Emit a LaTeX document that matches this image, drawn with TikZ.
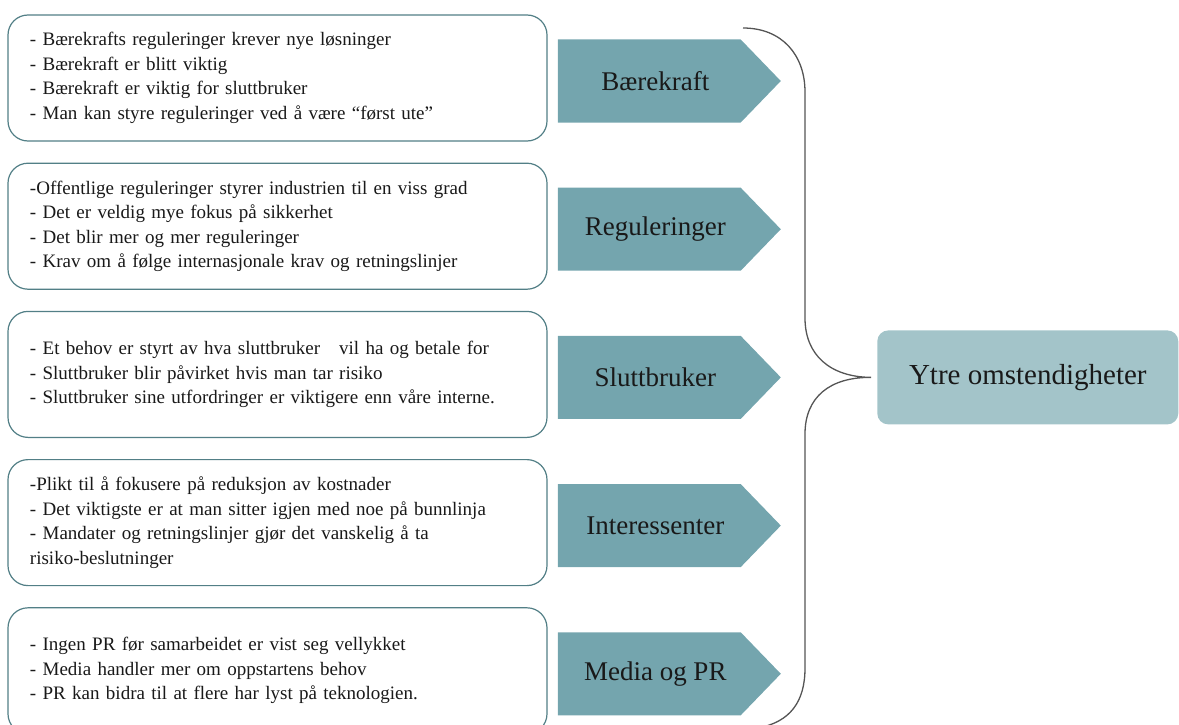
\documentclass[tikz,border=0pt]{standalone}
\usepackage{fontspec}
\setmainfont{Liberation Serif}
\usepackage{xcolor}
\usetikzlibrary{shapes,arrows,positioning}

\definecolor{tagteal}{HTML}{74A5AE}
\definecolor{mainteal}{HTML}{A3C4C9}
\definecolor{boxline}{HTML}{527F86}
\definecolor{braceline}{HTML}{555555}

\begin{document}
\begin{tikzpicture}[x=1pt, y=-1pt, node distance=21pt, auto]
    % Define styles
    \tikzstyle{infobox} = [rectangle, draw=boxline, line width=1.2pt, rounded corners=20pt, fill=white, minimum width=539pt, minimum height=126pt, text width=495pt, inner xsep=22pt, align=left, font=\fontsize{19}{24.5}\selectfont, text=black!90]
    \tikzstyle{tag} = [signal, signal to=east, signal pointer angle=92, fill=tagteal, minimum width=223pt, minimum height=83pt, inner sep=0pt, yshift=-3pt, font=\fontsize{27}{30}\selectfont, text=black!90]
    \tikzstyle{mainbox} = [rectangle, rounded corners=11pt, fill=mainteal, minimum width=301pt, minimum height=94pt, font=\fontsize{29}{32}\selectfont, text=black!90]
    \tikzstyle{brace} = [draw=braceline, line width=1.3pt]

    \useasboundingbox (0,0) rectangle (1179,725);

    % Baerekraft
    \node [infobox] (bkbox) at (277.5,78) {- Bærekrafts reguleringer krever nye løsninger\\- Bærekraft er blitt viktig\\- Bærekraft er viktig for sluttbruker\\- Man kan styre reguleringer ved å være “først ute”};
    \node [tag, right=10pt of bkbox] (bktag) {\hspace*{12pt}Bærekraft};

    % Reguleringer
    \node [infobox, below=of bkbox] (regbox) {-Offentlige reguleringer styrer industrien til en viss grad\\- Det er veldig mye fokus på sikkerhet\\- Det blir mer og mer reguleringer\\- Krav om å følge internasjonale krav og retningslinjer};
    \node [tag, right=10pt of regbox] (regtag) {\hspace*{12pt}Reguleringer};

    % Sluttbruker
    \node [infobox, below=of regbox] (slbox) {- Et behov er styrt av hva sluttbruker~~~vil ha og betale for\\- Sluttbruker blir påvirket hvis man tar risiko\\- Sluttbruker sine utfordringer er viktigere enn våre interne.};
    \node [tag, right=10pt of slbox] (sltag) {\hspace*{12pt}Sluttbruker};

    % Interessenter
    \node [infobox, below=of slbox] (intbox) {-Plikt til å fokusere på reduksjon av kostnader\\- Det viktigste er at man sitter igjen med noe på bunnlinja\\- Mandater og retningslinjer gjør det vanskelig å ta\\risiko-beslutninger};
    \node [tag, right=10pt of intbox] (inttag) {\hspace*{12pt}Interessenter};

    % Media og PR
    \node [infobox, below=of intbox] (prbox) {- Ingen PR før samarbeidet er vist seg vellykket\\- Media handler mer om oppstartens behov\\- PR kan bidra til at flere har lyst på teknologien.};
    \node [tag, right=10pt of prbox] (prtag) {\hspace*{12pt}Media og PR};

    % Ytre omstendigheter
    \node [mainbox, right=96pt of sltag] (ytre) {Ytre omstendigheter};
    \coordinate (tip) at ([xshift=-6pt]ytre.west);

    % Brace
    \draw [brace] (743,28) .. controls (782,28) and (805,55) .. (805,92)
        -- (805,318) .. controls (805,355) and (830,377) .. (tip)
        .. controls (830,377) and (805,397) .. (805,434)
        -- (805,668) .. controls (805,702) and (790,722) .. (758,728);
\end{tikzpicture}
\end{document}
